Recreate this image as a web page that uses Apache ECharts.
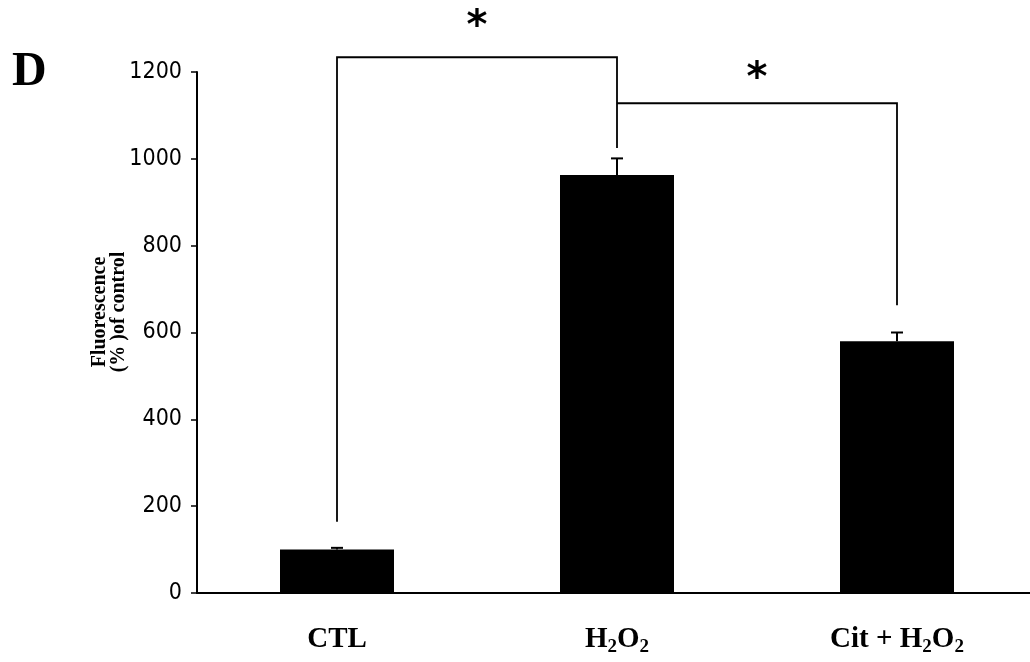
<!DOCTYPE html>
<html>
<head>
<meta charset="utf-8">
<script src="https://cdn.jsdelivr.net/npm/echarts@6/dist/echarts.min.js"></script>
<style>html,body{margin:0;padding:0;background:#fff;}#c{width:1030px;height:662px;}</style>
</head>
<body>
<div id="c"></div>
<script>
var categories = ['CTL', 'H2O2', 'Cit + H2O2'];
var values = [100, 963, 580];
var errors = [4, 38, 20];
var yTicks = [0, 200, 400, 600, 800, 1000, 1200];
// significance brackets: [fromIndex, toIndex, topValue, leftBottomValue, rightBottomValue]
var brackets = [
  [0, 1, 1234, 164, 1025],
  [1, 2, 1128, 1128, 663]
];
// asterisk labels: [fromIndex, toIndex, value]
var stars = [
  [0, 1, 1302],
  [1, 2, 1183]
];

var chart = echarts.init(document.getElementById('c'));
var serif = '"Liberation Serif", "Times New Roman", serif';

chart.setOption({
  animation: false,
  backgroundColor: '#fff',
  grid: { left: 197, top: 72, width: 840, height: 521, outerBoundsMode: 'none', containLabel: false },
  graphic: [
    { type: 'text', left: 12, top: 49, style: { text: 'D', font: 'bold 48px ' + serif, fill: '#000' } },
    { type: 'text', x: 109, y: 312, rotation: Math.PI / 2,
      style: { text: 'Fluorescence\n(% )of control', font: 'bold 20px ' + serif, fill: '#000',
               align: 'center', verticalAlign: 'middle', lineHeight: 19 } }
  ],
  xAxis: {
    type: 'category',
    data: categories,
    axisLine: { lineStyle: { color: '#000', width: 2 } },
    axisTick: { inside: true, length: 6, lineStyle: { color: '#000', width: 1.5 } },
    axisLabel: {
      interval: 0,
      hideOverlap: false,
      margin: 30,
      color: '#000',
      fontFamily: serif,
      fontWeight: 'bold',
      fontSize: 29,
      lineHeight: 34,
      formatter: function (v) { return v.replace(/2/g, '{s|2}'); },
      rich: {
        s: { fontSize: 19, fontWeight: 'bold', fontFamily: serif, color: '#000', lineHeight: 14, verticalAlign: 'bottom' }
      }
    }
  },
  yAxis: {
    type: 'value',
    min: yTicks[0],
    max: yTicks[yTicks.length - 1],
    interval: 200,
    splitLine: { show: false },
    axisLine: { show: true, lineStyle: { color: '#000', width: 2 } },
    axisTick: { show: true, length: 6, lineStyle: { color: '#000', width: 1.5 } },
    axisLabel: {
      margin: 15, color: '#000', fontSize: 23,
      fontFamily: '"DejaVu Sans Condensed", "Liberation Sans Narrow", "Arial Narrow", sans-serif',
      formatter: function (v) { return String(v); }
    }
  },
  series: [
    {
      type: 'bar',
      data: values,
      barWidth: 114,
      itemStyle: { color: '#000' },
      z: 2
    },
    {
      type: 'custom',
      clip: false,
      z: 3,
      data: values.map(function (v, i) { return [i, v, v + errors[i]]; }),
      renderItem: function (params, api) {
        var b = api.coord([api.value(0), api.value(1)]);
        var t = api.coord([api.value(0), api.value(2)]);
        var x = Math.round(b[0]);
        return {
          type: 'group',
          children: [
            { type: 'line', shape: { x1: x, y1: b[1], x2: x, y2: t[1] }, style: { stroke: '#000', lineWidth: 2 } },
            { type: 'line', shape: { x1: x - 6, y1: t[1], x2: x + 6, y2: t[1] }, style: { stroke: '#000', lineWidth: 2 } }
          ]
        };
      }
    },
    {
      type: 'custom',
      clip: false,
      z: 3,
      data: brackets,
      renderItem: function (params, api) {
        var a = api.coord([api.value(0), api.value(2)]);
        var c = api.coord([api.value(1), api.value(2)]);
        var la = api.coord([api.value(0), api.value(3)]);
        var rc = api.coord([api.value(1), api.value(4)]);
        return {
          type: 'polyline',
          shape: { points: [[la[0], la[1]], [a[0], a[1]], [c[0], c[1]], [rc[0], rc[1]]] },
          style: { stroke: '#000', lineWidth: 1.8, fill: null }
        };
      }
    },
    {
      type: 'custom',
      clip: false,
      z: 3,
      data: stars,
      renderItem: function (params, api) {
        var a = api.coord([api.value(0), api.value(2)]);
        var c = api.coord([api.value(1), api.value(2)]);
        return {
          type: 'text',
          style: { x: (a[0] + c[0]) / 2, y: a[1], text: '*', font: 'bold 40px "DejaVu Sans", sans-serif',
                   fill: '#000', align: 'center', verticalAlign: 'middle' }
        };
      }
    }
  ]
});
</script>
</body>
</html>
